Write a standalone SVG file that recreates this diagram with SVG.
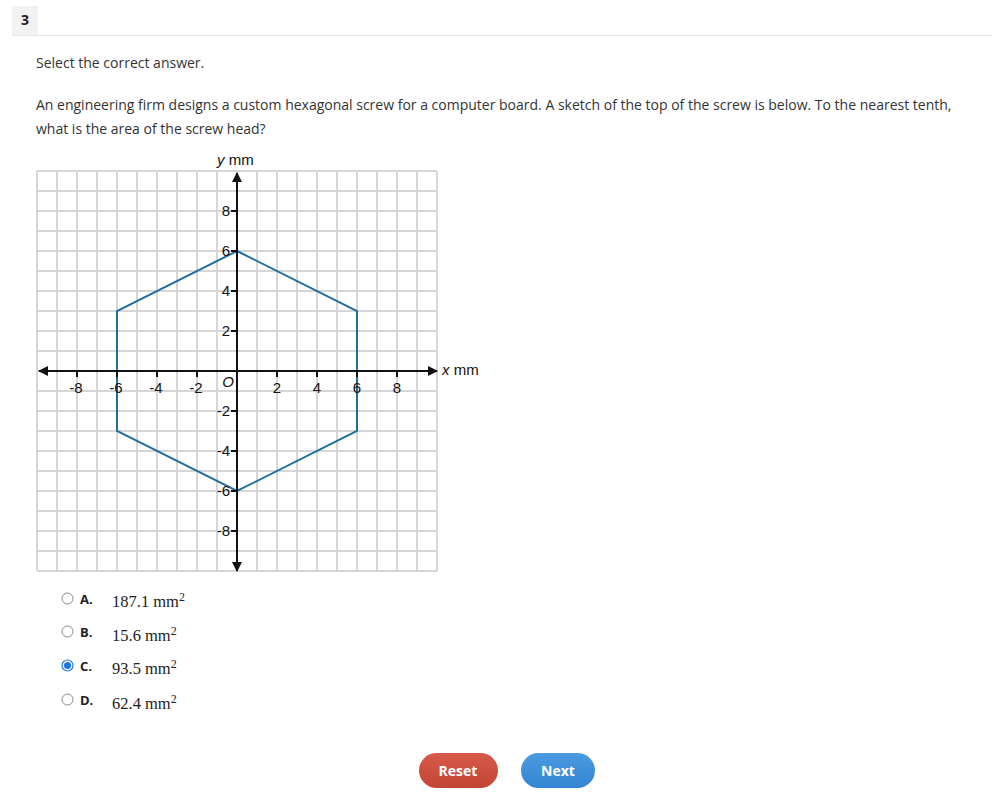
<svg xmlns="http://www.w3.org/2000/svg" width="992" height="810" viewBox="0 0 992 810">
<style>
.t{font-family:"Open Sans","Liberation Sans",sans-serif;font-size:14px;fill:#333}
.g{stroke:#d6d6d6;stroke-width:2;fill:none}
.ax{stroke:#111;stroke-width:2}
.lb{font-family:"Liberation Sans",Arial,sans-serif;font-size:15px;fill:#111}
.opt{font-family:"Open Sans","Liberation Sans",sans-serif;font-size:13px;font-weight:bold;fill:#222}
.val{font-family:"Liberation Serif","Times New Roman",serif;font-size:16.5px;fill:#222}
.btn{font-family:"Open Sans","Liberation Sans",sans-serif;font-size:14px;font-weight:bold;fill:#fff;text-anchor:middle}
</style>
<defs>
<marker id="ah" viewBox="0 0 10 10" refX="9" refY="5" markerWidth="5" markerHeight="5" orient="auto-start-reverse"><path d="M0,0 L10,5 L0,10 z" fill="#111"/></marker>
<linearGradient id="red" x1="0" y1="0" x2="0" y2="1"><stop offset="0" stop-color="#d6594a"/><stop offset="1" stop-color="#c24634"/></linearGradient>
<linearGradient id="blue" x1="0" y1="0" x2="0" y2="1"><stop offset="0" stop-color="#4a9be0"/><stop offset="1" stop-color="#3485d2"/></linearGradient>
</defs>
<rect width="992" height="810" fill="#fff"/>
<g id="header">
<rect x="12" y="6" width="26" height="29" fill="#f2f2f2"/>
<line x1="12" y1="35.5" x2="992" y2="35.5" stroke="#e6e6e6" stroke-width="1"/>
<text x="25" y="25" class="t" style="font-weight:bold;fill:#222" text-anchor="middle">3</text>
</g>
<g id="question">
<text x="36" y="68" class="t">Select the correct answer.</text>
<text x="36" y="110" class="t">An engineering firm designs a custom hexagonal screw for a computer board. A sketch of the top of the screw is below. To the nearest tenth,</text>
<text x="36" y="134" class="t">what is the area of the screw head?</text>
</g>
<g id="grid">
<path class="g" d="M37,171V571M57,171V571M77,171V571M97,171V571M117,171V571M137,171V571M157,171V571M177,171V571M197,171V571M217,171V571M237,171V571M257,171V571M277,171V571M297,171V571M317,171V571M337,171V571M357,171V571M377,171V571M397,171V571M417,171V571M437,171V571"/>
<path class="g" d="M37,171H437M37,191H437M37,211H437M37,231H437M37,251H437M37,271H437M37,291H437M37,311H437M37,331H437M37,351H437M37,371H437M37,391H437M37,411H437M37,431H437M37,451H437M37,471H437M37,491H437M37,511H437M37,531H437M37,551H437M37,571H437"/>
</g>
<g id="hexagon">
<polygon points="237,251 357,311 357,431 237,491 117,431 117,311" fill="none" stroke="#1f6e9c" stroke-width="2"/>
</g>
<g id="axes">
<line class="ax" x1="39" y1="371" x2="437" y2="371" marker-start="url(#ah)" marker-end="url(#ah)"/>
<line class="ax" x1="237" y1="173" x2="237" y2="571" marker-start="url(#ah)" marker-end="url(#ah)"/>
<path class="ax" d="M77,371v6M117,371v6M157,371v6M197,371v6M277,371v6M317,371v6M357,371v6M397,371v6M231,211h6M231,251h6M231,291h6M231,331h6M231,411h6M231,451h6M231,491h6M231,531h6"/>
</g>
<g id="labels">
<text x="76" y="393" class="lb" text-anchor="middle">-8</text>
<text x="116" y="393" class="lb" text-anchor="middle">-6</text>
<text x="156" y="393" class="lb" text-anchor="middle">-4</text>
<text x="196" y="393" class="lb" text-anchor="middle">-2</text>
<text x="277" y="393" class="lb" text-anchor="middle">2</text>
<text x="317" y="393" class="lb" text-anchor="middle">4</text>
<text x="357" y="393" class="lb" text-anchor="middle">6</text>
<text x="397" y="393" class="lb" text-anchor="middle">8</text>
<text x="228" y="387" class="lb" text-anchor="middle" font-style="italic">O</text>
<text x="230" y="216" class="lb" text-anchor="end">8</text>
<text x="230" y="256" class="lb" text-anchor="end">6</text>
<text x="230" y="296" class="lb" text-anchor="end">4</text>
<text x="230" y="336" class="lb" text-anchor="end">2</text>
<text x="230" y="416" class="lb" text-anchor="end">-2</text>
<text x="230" y="456" class="lb" text-anchor="end">-4</text>
<text x="230" y="496" class="lb" text-anchor="end">-6</text>
<text x="230" y="536" class="lb" text-anchor="end">-8</text>
<text x="217" y="165" class="lb"><tspan font-style="italic">y</tspan> mm</text>
<text x="442" y="375" class="lb"><tspan font-style="italic">x</tspan> mm</text>
</g>
<g id="options">
<circle cx="67.5" cy="598.5" r="5.5" fill="#fff" stroke="#888" stroke-width="1"/>
<text x="80" y="604" class="opt">A.</text>
<text x="112" y="607" class="val">187.1 mm<tspan font-size="12" dy="-6">2</tspan></text>
<circle cx="67.5" cy="631.5" r="5.5" fill="#fff" stroke="#888" stroke-width="1"/>
<text x="80" y="637" class="opt">B.</text>
<text x="112" y="641" class="val">15.6 mm<tspan font-size="12" dy="-6">2</tspan></text>
<circle cx="67.5" cy="665.5" r="5.5" fill="#fff" stroke="#1a73e8" stroke-width="1.2"/>
<circle cx="67.5" cy="665.5" r="3.5" fill="#1a73e8"/>
<text x="80" y="671" class="opt">C.</text>
<text x="112" y="674" class="val">93.5 mm<tspan font-size="12" dy="-6">2</tspan></text>
<circle cx="67.5" cy="699.5" r="5.5" fill="#fff" stroke="#888" stroke-width="1"/>
<text x="80" y="705" class="opt">D.</text>
<text x="112" y="709" class="val">62.4 mm<tspan font-size="12" dy="-6">2</tspan></text>
</g>
<g id="reset">
<rect x="419" y="753" width="79" height="35" rx="17.5" fill="url(#red)"/>
<text x="458" y="776" class="btn">Reset</text>
</g>
<g id="next">
<rect x="521" y="753" width="74" height="35" rx="17.5" fill="url(#blue)"/>
<text x="558" y="776" class="btn">Next</text>
</g>
</svg>
